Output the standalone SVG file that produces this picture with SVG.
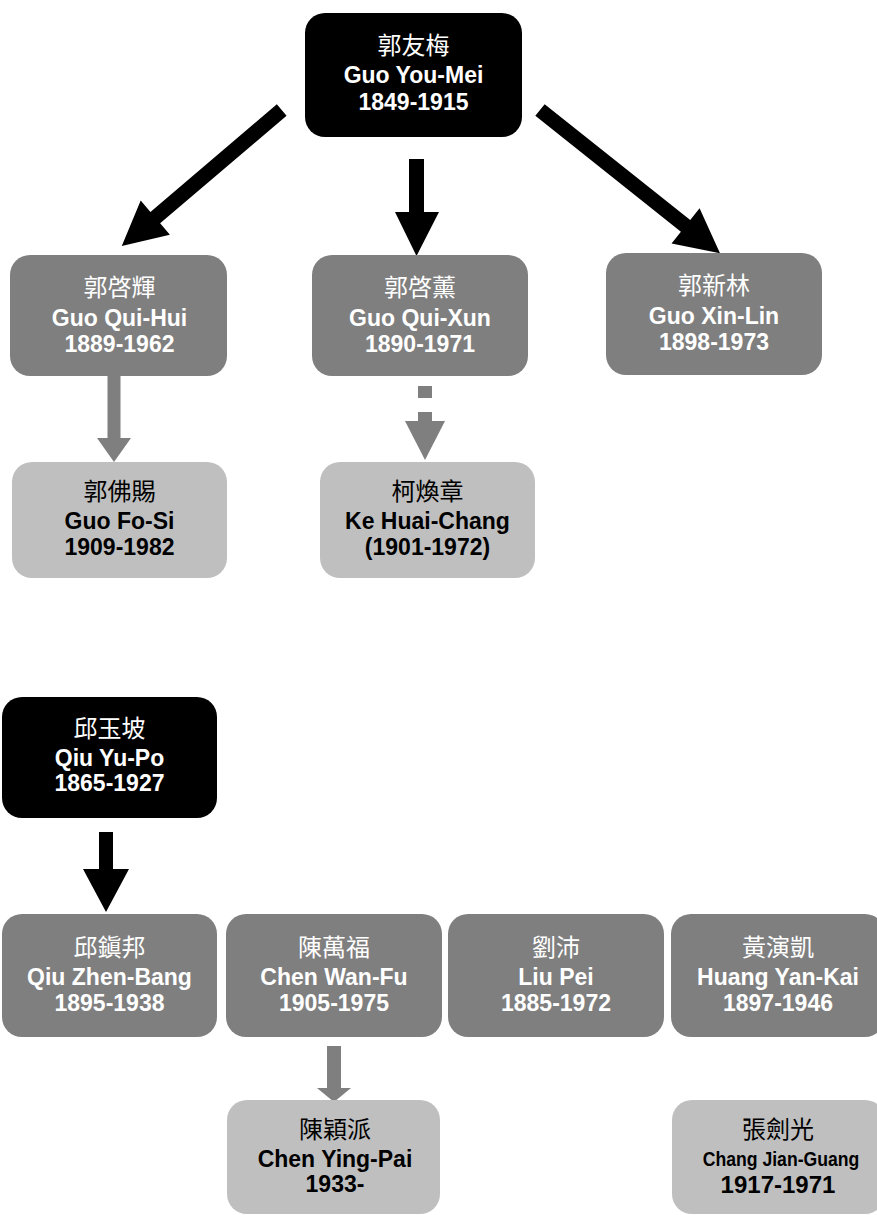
<svg xmlns="http://www.w3.org/2000/svg" width="877" height="1215" viewBox="0 0 877 1215">
<style>
.t{font-family:"Liberation Sans",Arial,"Noto Sans CJK TC",sans-serif;font-size:23px;font-weight:bold;text-anchor:middle}
.c{font-family:"Noto Sans CJK TC","Liberation Sans",sans-serif;font-weight:normal;font-size:24px;text-anchor:middle}
.w{fill:#ffffff}.k{fill:#000000}
.n0{fill:#000000}.n1{fill:#7f7f7f}.n2{fill:#bfbfbf}
.ab{fill:#000000}.ag{fill:#7f7f7f}
</style>
<rect width="877" height="1215" fill="#ffffff"/>
<g id="connectors">
  <g transform="translate(281.7,110) rotate(139.6)"><polygon class="ab" points="0,-7.5 166,-7.5 166,-22.5 210,0 166,22.5 166,7.5 0,7.5"/></g>
  <polygon class="ab" points="409,159 424,159 424,212 439,212 416.5,256 395,212 409,212"/>
  <g transform="translate(540,110) rotate(38.5)"><polygon class="ab" points="0,-7.5 186,-7.5 186,-22.5 230,0 186,22.5 186,7.5 0,7.5"/></g>
  <polygon class="ag" points="107.5,376 120.5,376 120.5,438 131,438 114,462 97,438 107.5,438"/>
  <line x1="425" y1="386" x2="425" y2="422" stroke="#7f7f7f" stroke-width="14" stroke-dasharray="12 14"/>
  <polygon class="ag" points="405,421 445,421 425,460"/>
  <polygon class="ab" points="99,832 113,832 113,869 129,869 106,912 83,869 99,869"/>
  <polygon class="ag" points="327,1046 341,1046 341,1088 351,1088 334,1102 317,1088 327,1088"/>
</g>
<g id="n_guo_youmei">
  <rect class="n0" x="305" y="13" width="217" height="124" rx="20"/>
  <text class="c w" x="413.5" y="54">郭友梅</text>
  <text class="t w" x="413.5" y="83">Guo You-Mei</text>
  <text class="t w" x="413.5" y="110">1849-1915</text>
</g>
<g id="n_guo_quihui">
  <rect class="n1" x="10" y="255" width="217" height="121" rx="20"/>
  <text class="c w" x="119.5" y="296">郭啓輝</text>
  <text class="t w" x="119.5" y="326">Guo Qui-Hui</text>
  <text class="t w" x="119.5" y="352">1889-1962</text>
</g>
<g id="n_guo_quixun">
  <rect class="n1" x="312" y="255" width="216" height="121" rx="20"/>
  <text class="c w" x="420" y="296">郭啓薰</text>
  <text class="t w" x="420" y="326">Guo Qui-Xun</text>
  <text class="t w" x="420" y="352">1890-1971</text>
</g>
<g id="n_guo_xinlin">
  <rect class="n1" x="606" y="253" width="216" height="122" rx="20"/>
  <text class="c w" x="714" y="294">郭新林</text>
  <text class="t w" x="714" y="324">Guo Xin-Lin</text>
  <text class="t w" x="714" y="350">1898-1973</text>
</g>
<g id="n_guo_fosi">
  <rect class="n2" x="12" y="462" width="215" height="116" rx="20"/>
  <text class="c k" x="119.5" y="500">郭佛賜</text>
  <text class="t k" x="119.5" y="529">Guo Fo-Si</text>
  <text class="t k" x="119.5" y="555">1909-1982</text>
</g>
<g id="n_ke_huaichang">
  <rect class="n2" x="320" y="462" width="215" height="116" rx="20"/>
  <text class="c k" x="427.5" y="500">柯煥章</text>
  <text class="t k" x="427.5" y="529">Ke Huai-Chang</text>
  <text class="t k" x="427.5" y="555">(1901-1972)</text>
</g>
<g id="n_qiu_yupo">
  <rect class="n0" x="2" y="697" width="215" height="121" rx="20"/>
  <text class="c w" x="109.5" y="737">邱玉坡</text>
  <text class="t w" x="109.5" y="766">Qiu Yu-Po</text>
  <text class="t w" x="109.5" y="791">1865-1927</text>
</g>
<g id="n_qiu_zhenbang">
  <rect class="n1" x="2" y="914" width="215" height="123" rx="20"/>
  <text class="c w" x="109.5" y="956">邱鎭邦</text>
  <text class="t w" x="109.5" y="985">Qiu Zhen-Bang</text>
  <text class="t w" x="109.5" y="1011">1895-1938</text>
</g>
<g id="n_chen_wanfu">
  <rect class="n1" x="226" y="914" width="216" height="123" rx="20"/>
  <text class="c w" x="334" y="956">陳萬福</text>
  <text class="t w" x="334" y="985">Chen Wan-Fu</text>
  <text class="t w" x="334" y="1011">1905-1975</text>
</g>
<g id="n_liu_pei">
  <rect class="n1" x="448" y="914" width="216" height="123" rx="20"/>
  <text class="c w" x="556" y="956">劉沛</text>
  <text class="t w" x="556" y="985">Liu Pei</text>
  <text class="t w" x="556" y="1011">1885-1972</text>
</g>
<g id="n_huang_yankai">
  <rect class="n1" x="671" y="914" width="214" height="123" rx="20"/>
  <text class="c w" x="778" y="956">黃演凱</text>
  <text class="t w" x="778" y="985">Huang Yan-Kai</text>
  <text class="t w" x="778" y="1011">1897-1946</text>
</g>
<g id="n_chen_yingpai">
  <rect class="n2" x="227" y="1100" width="213" height="114" rx="20"/>
  <text class="c k" x="335" y="1138">陳穎派</text>
  <text class="t k" x="335" y="1167">Chen Ying-Pai</text>
  <text class="t k" x="335" y="1192">1933-</text>
</g>
<g id="n_chang_jianguang">
  <rect class="n2" x="672" y="1100" width="213" height="114" rx="20"/>
  <text class="c k" x="778" y="1138">張劍光</text>
  <text class="t k" x="0" y="0" style="font-size:21px" transform="translate(781,1166) scale(0.84,1)">Chang Jian-Guang</text>
  <text class="t k" x="778" y="1193" style="font-size:24px">1917-1971</text>
</g>
</svg>
